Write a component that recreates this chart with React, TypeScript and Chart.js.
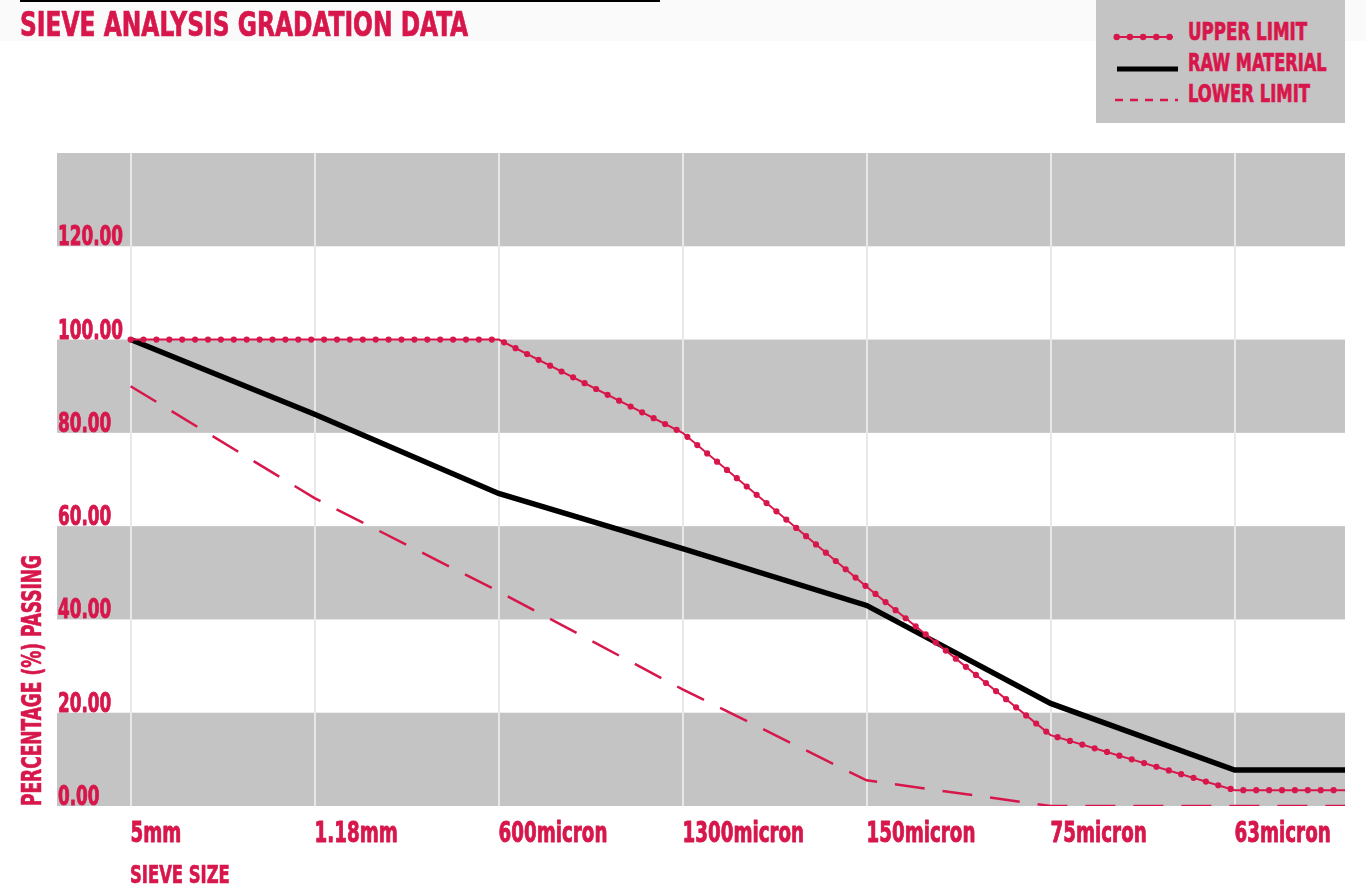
import React, { useEffect, useLayoutEffect, useRef } from 'react';
import { Chart, registerables } from 'chart.js';

Chart.register(...registerables);

// ---------- data ----------
const categories = ['5mm', '1.18mm', '600micron', '1300micron', '150micron', '75micron', '63micron'];
const upperLimit = [100, 100, 100, 80, 47, 15.2, 3.4];
const rawMaterial = [100, 84, 67, 55.2, 43, 22, 7.7];
const lowerLimit = [90, 66, 46, 25, 5.5, 0, 0];
const yTickValues = [0, 20, 40, 60, 80, 100, 120];
const greyBands = [[0, 20], [40, 60], [80, 100], [120, 140]];
const Y_MAX = 140;
const X_MIN = -0.4;
const X_MAX = 6.6;

const FONT = "'DejaVu Sans Condensed', 'DejaVu Sans', sans-serif";
const RED = '#d7174b';
const GREY = '#c4c4c4';
const X_SQUEEZE = 0.7;
const Y_SQUEEZE = 0.72;

function FitText(props: { text: string; left: number; top: number; width: number; fontSize: number; rotate?: boolean }) {
  const ref = useRef<HTMLSpanElement>(null);
  useLayoutEffect(() => {
    const el = ref.current;
    if (!el) return;
    const w = el.offsetWidth;
    const k = props.width / w;
    el.style.transform = props.rotate ? `rotate(-90deg) scaleX(${k})` : `scaleX(${k})`;
  }, [props.text, props.width]);
  return (
    <span
      ref={ref}
      style={{
        position: 'absolute',
        left: props.left,
        top: props.top,
        fontFamily: FONT,
        fontWeight: 700,
        fontSize: props.fontSize,
        lineHeight: 1,
        color: RED,
        whiteSpace: 'nowrap',
        transformOrigin: 'left top',
        WebkitTextStroke: `0.7px ${RED}`,
      }}
    >
      {props.text}
    </span>
  );
}

export default function App() {
  const canvasRef = useRef<HTMLCanvasElement>(null);

  useEffect(() => {
    const canvas = canvasRef.current;
    if (!canvas) return;

    const toPoints = (vals: number[]) => [
      ...vals.map((v, i) => ({ x: i, y: v })),
      { x: X_MAX, y: vals[vals.length - 1] },
    ];

    const bandsPlugin = {
      id: 'bands',
      beforeDraw(chart: any) {
        const { ctx, chartArea, scales } = chart;
        ctx.save();
        ctx.fillStyle = GREY;
        for (const [lo, hi] of greyBands) {
          const yTop = scales.y.getPixelForValue(hi);
          const yBot = scales.y.getPixelForValue(lo);
          ctx.fillRect(chartArea.left, yTop, chartArea.right - chartArea.left, yBot - yTop);
        }
        ctx.restore();
      },
    };

    // condensed tick labels drawn at the positions given by the chart's own scales
    const tickLabelPlugin = {
      id: 'condensedTicks',
      afterDraw(chart: any) {
        const { ctx, scales } = chart;
        const xs = scales.x;
        const ys = scales.y;
        const draw = (text: string, x: number, y: number, k: number) => {
          ctx.save();
          ctx.translate(x, y);
          ctx.scale(k, 1);
          ctx.fillText(text, 0, 0);
          ctx.strokeText(text, 0, 0);
          ctx.restore();
        };
        ctx.save();
        ctx.fillStyle = RED;
        ctx.strokeStyle = RED;
        ctx.lineWidth = 0.9;
        ctx.lineJoin = 'round';
        ctx.textAlign = 'left';
        ctx.textBaseline = 'alphabetic';
        ctx.font = `bold 29px ${FONT}`;
        xs.ticks.forEach((t: any, i: number) => {
          draw(categories[t.value] ?? '', xs.getPixelForTick(i), xs.top + 36, X_SQUEEZE);
        });
        ctx.font = `bold 26px ${FONT}`;
        ys.ticks.forEach((t: any, i: number) => {
          draw(Number(t.value).toFixed(2), ys.right + 1, ys.getPixelForTick(i) - 1, Y_SQUEEZE);
        });
        ctx.restore();
      },
    };

    const chart = new Chart(canvas, {
      type: 'line',
      data: {
        datasets: [
          { label: 'UPPER LIMIT (markers)', data: toPoints(upperLimit), borderColor: RED, borderWidth: 6.2, borderDash: [0, 12.9], borderCapStyle: 'round', pointRadius: 0, fill: false, order: 0 },
          { label: 'UPPER LIMIT', data: toPoints(upperLimit), borderColor: RED, borderWidth: 2, pointRadius: 0, fill: false, order: 1 },
          { label: 'RAW MATERIAL', data: toPoints(rawMaterial), borderColor: '#000000', borderWidth: 5.5, pointRadius: 0, fill: false, order: 2 },
          { label: 'LOWER LIMIT', data: toPoints(lowerLimit), borderColor: RED, borderWidth: 2.5, borderDash: [30, 18], pointRadius: 0, fill: false, order: 3 },
        ],
      } as any,
      options: {
        animation: false,
        responsive: false,
        maintainAspectRatio: false,
        layout: { autoPadding: false, padding: { left: 57, top: 153, right: 21, bottom: 22 } },
        plugins: { legend: { display: false }, tooltip: { enabled: false }, title: { display: false } },
        scales: {
          x: {
            type: 'linear',
            min: X_MIN,
            max: X_MAX,
            afterBuildTicks: (s: any) => { s.ticks = categories.map((_, i) => ({ value: i })); },
            afterFit: (s: any) => { s.height = 60; s.paddingLeft = 0; s.paddingRight = 0; },
            grid: { color: '#e8e8e8', lineWidth: 2, drawTicks: false },
            border: { display: false },
            ticks: { display: false },
          },
          y: {
            type: 'linear',
            min: 0,
            max: Y_MAX,
            afterBuildTicks: (s: any) => { s.ticks = yTickValues.map((v) => ({ value: v })); },
            afterFit: (s: any) => { s.width = 0; s.paddingTop = 0; s.paddingBottom = 0; },
            grid: { display: false, drawTicks: false },
            border: { display: false },
            ticks: { display: false },
          },
        },
      } as any,
      plugins: [bandsPlugin, tickLabelPlugin],
    });
    return () => chart.destroy();
  }, []);

  const legendDots = [0, 1, 2, 3, 4];

  return (
    <div style={{ position: 'fixed', left: 0, top: 0, width: 1366, height: 888, background: '#ffffff', overflow: 'hidden' }}>
      <div style={{ position: 'absolute', left: 0, top: 0, width: 1366, height: 41, background: '#fafafa' }} />
      <div style={{ position: 'absolute', left: 20, top: 0, width: 640, height: 2, background: '#000' }} />
      <canvas ref={canvasRef} width={1366} height={888} style={{ position: 'absolute', left: 0, top: 0, width: 1366, height: 888 }} />
      <FitText text="SIEVE ANALYSIS GRADATION DATA" left={20} top={8} width={448} fontSize={33} />
      <div style={{ position: 'absolute', left: 1096, top: 0, width: 249, height: 123, background: GREY }}>
        <svg width={249} height={123} style={{ position: 'absolute', left: 0, top: 0 }}>
          <line x1={20} y1={37} x2={77} y2={37} stroke={RED} strokeWidth={2} />
          {legendDots.map((i) => (
            <circle key={i} cx={20.7 + i * 13.2} cy={37} r={3.2} fill={RED} />
          ))}
          <line x1={21} y1={69} x2={82} y2={69} stroke="#000" strokeWidth={5} />
          <line x1={19} y1={100} x2={82} y2={100} stroke={RED} strokeWidth={2.5} strokeDasharray="8 7" />
        </svg>
      </div>
      <FitText text="UPPER LIMIT" left={1188} top={20} width={119} fontSize={24} />
      <FitText text="RAW MATERIAL" left={1188} top={51} width={139} fontSize={24} />
      <FitText text="LOWER LIMIT" left={1188} top={82} width={122} fontSize={24} />
      <FitText text="PERCENTAGE (%) PASSING" left={19} top={806} width={251} fontSize={26} rotate />
      <FitText text="SIEVE SIZE" left={130} top={862} width={100} fontSize={25} />
    </div>
  );
}
